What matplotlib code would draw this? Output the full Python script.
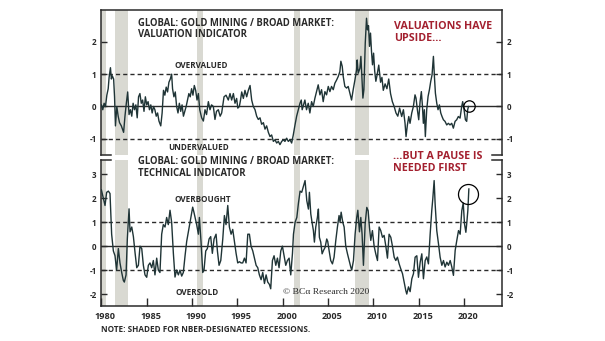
import matplotlib.pyplot as plt
from matplotlib.transforms import ScaledTranslation

# valuation indicator (z-score), year / value
val_years = [1980.0, 1980.15, 1980.3, 1980.45, 1980.6, 1980.75, 1980.85, 1981.0, 1981.1, 1981.2,
             1981.35, 1981.45, 1981.55, 1981.7, 1981.85, 1982.0, 1982.2, 1982.45, 1982.6, 1982.75,
             1982.9, 1983.05, 1983.2, 1983.35, 1983.5, 1983.65, 1983.8, 1983.95, 1984.1, 1984.25,
             1984.4, 1984.55, 1984.7, 1984.85, 1985.0, 1985.15, 1985.3, 1985.45, 1985.6, 1985.75,
             1985.9, 1986.05, 1986.2, 1986.35, 1986.55, 1986.7, 1986.85, 1987.0, 1987.15, 1987.3,
             1987.45, 1987.6, 1987.75, 1987.85, 1988.0, 1988.15, 1988.3, 1988.45, 1988.6, 1988.75,
             1988.9, 1989.05, 1989.2, 1989.35, 1989.5, 1989.65, 1989.8, 1989.95, 1990.1, 1990.25,
             1990.4, 1990.55, 1990.7, 1990.85, 1991.06, 1991.25, 1991.43, 1991.6, 1991.8, 1991.98,
             1992.15, 1992.35, 1992.53, 1992.7, 1992.9, 1993.1, 1993.27, 1993.4, 1993.53, 1993.75,
             1994.0, 1994.19, 1994.37, 1994.56, 1994.74, 1994.92, 1995.05, 1995.22, 1995.35, 1995.48,
             1995.66, 1995.84, 1996.03, 1996.21, 1996.4, 1996.58, 1996.76, 1996.95, 1997.13, 1997.31,
             1997.5, 1997.68, 1997.87, 1998.05, 1998.23, 1998.42, 1998.6, 1998.78, 1998.97, 1999.15,
             1999.34, 1999.52, 1999.7, 1999.89, 2000.07, 2000.25, 2000.44, 2000.62, 2000.81, 2000.99,
             2001.17, 2001.36, 2001.54, 2001.73, 2001.91, 2002.05, 2002.15, 2002.3, 2002.45, 2002.63,
             2002.82, 2003.0, 2003.19, 2003.37, 2003.55, 2003.74, 2003.92, 2004.11, 2004.29, 2004.47,
             2004.66, 2004.84, 2005.03, 2005.21, 2005.39, 2005.58, 2005.76, 2005.95, 2006.13, 2006.31,
             2006.42, 2006.57, 2006.68, 2006.86, 2007.05, 2007.23, 2007.41, 2007.6, 2007.78, 2007.97,
             2008.15, 2008.22, 2008.33, 2008.52, 2008.63, 2008.74, 2008.85, 2008.96, 2009.11, 2009.25,
             2009.36, 2009.47, 2009.58, 2009.69, 2009.8, 2009.91, 2010.03, 2010.15, 2010.28, 2010.4,
             2010.6, 2010.8, 2010.95, 2011.1, 2011.3, 2011.5, 2011.7, 2011.9, 2012.1, 2012.3,
             2012.5, 2012.7, 2012.9, 2013.13, 2013.32, 2013.5, 2013.61, 2013.76, 2013.91, 2014.05,
             2014.24, 2014.42, 2014.6, 2014.71, 2014.86, 2015.01, 2015.16, 2015.3, 2015.41, 2015.52,
             2015.63, 2015.74, 2015.89, 2016.04, 2016.19, 2016.33, 2016.48, 2016.63, 2016.74, 2016.85,
             2017.0, 2017.14, 2017.29, 2017.44, 2017.58, 2017.73, 2017.91, 2018.1, 2018.28, 2018.46,
             2018.65, 2018.83, 2019.02, 2019.2, 2019.38, 2019.57, 2019.75, 2019.86, 2020.01, 2020.16,
             2020.3, 2020.41, 2020.5]
val_values = [0.05, -0.1, 0.1, 0.0, 0.35, 0.55, 0.9, 1.2, 0.85, 0.95,
              0.85, 0.3, -0.6, 0.0, -0.3, -0.5, -0.6, -0.8, -0.3, 0.1,
              0.45, -0.25, -0.1, -0.3, 0.1, -0.1, 0.05, -0.35, 0.3, 0.4,
              0.1, 0.2, -0.15, 0.3, 0.05, 0.15, -0.1, 0.05, -0.2, 0.0,
              -0.1, -0.3, -0.2, -0.45, -0.6, -0.2, 0.5, 0.35, 0.6, 0.45,
              0.75, 0.85, 1.0, 0.55, 0.3, 0.45, 0.0, -0.2, 0.1, -0.15,
              0.05, -0.3, -0.15, 0.0, 0.2, 0.4, 0.3, 0.55, 0.35, 0.65,
              0.5, 0.2, 0.4, -0.1, -0.35, -0.45, -0.1, -0.25, 0.15, -0.1,
              0.05, 0.0, -0.4, -0.15, -0.1, -0.3, -0.2, 0.05, 0.3, 0.35,
              0.2, 0.4, 0.2, 0.4, 0.1, 0.25, -0.05, 0.0, 0.2, 0.45,
              0.25, 0.5, 0.3, 0.5, 0.65, 0.2, 0.0, -0.1, -0.3, -0.4,
              -0.35, -0.55, -0.5, -0.7, -0.6, -0.8, -0.93, -0.88, -1.08, -1.03,
              -1.13, -1.08, -1.18, -1.08, -1.03, -1.08, -0.98, -1.08, -1.03, -1.13,
              -0.88, -0.57, -0.3, -0.1, 0.1, 0.2, -0.1, 0.05, 0.2, -0.1,
              0.1, -0.2, 0.15, 0.0, 0.25, 0.46, 0.67, 0.36, 0.52, 0.15,
              0.46, 0.36, 0.62, 0.46, 0.62, 0.52, 0.72, 0.82, 0.93, 1.08,
              1.4, 1.24, 0.93, 0.62, 0.57, 0.62, 0.41, 0.2, 0.52, 0.82,
              1.13, 1.44, 1.03, 1.18, 1.55, 0.93, 0.26, 0.52, 1.96, 2.73,
              2.37, 2.5, 1.86, 2.27, 1.7, 1.29, 1.65, 1.1, 0.78, 0.95,
              1.28, 0.75, 0.9, 0.5, 0.7, 0.55, 0.85, 0.4, 0.15, 0.0,
              -0.2, -0.3, -0.05, -0.31, -0.1, -0.52, -0.93, -0.57, -0.31, -0.52,
              -0.2, 0.0, 0.36, 0.26, -0.1, -0.41, 0.15, 0.46, 0.05, -0.52,
              -0.1, -0.93, -0.1, 0.31, 0.52, 0.77, 0.98, 1.55, 0.93, 0.41,
              0.1, -0.1, 0.05, -0.2, -0.31, -0.41, -0.46, -0.57, -0.52, -0.57,
              -0.52, -0.67, -0.46, -0.41, -0.31, -0.36, 0.0, 0.15, -0.1, -0.41,
              -0.46, -0.1, 0.0]

# technical indicator, year / value
tech_years = [1980.0, 1980.21, 1980.4, 1980.58, 1980.77, 1980.95, 1981.13, 1981.32, 1981.5, 1981.68,
              1981.87, 1982.05, 1982.24, 1982.42, 1982.53, 1982.72, 1982.86, 1983.05, 1983.16, 1983.35,
              1983.53, 1983.72, 1983.9, 1984.08, 1984.26, 1984.45, 1984.63, 1984.81, 1985.0, 1985.18,
              1985.36, 1985.55, 1985.73, 1985.91, 1986.1, 1986.28, 1986.46, 1986.65, 1986.83, 1987.02,
              1987.2, 1987.38, 1987.57, 1987.75, 1987.94, 1988.12, 1988.3, 1988.49, 1988.67, 1988.86,
              1989.04, 1989.23, 1989.41, 1989.59, 1989.78, 1990.07, 1990.22, 1990.4, 1990.51, 1990.7,
              1990.81, 1990.99, 1991.18, 1991.32, 1991.51, 1991.69, 1991.88, 1992.06, 1992.24, 1992.43,
              1992.65, 1992.8, 1992.98, 1993.17, 1993.39, 1993.57, 1993.75, 1993.94, 1994.12, 1994.31,
              1994.49, 1994.67, 1994.86, 1995.04, 1995.23, 1995.41, 1995.59, 1995.78, 1995.96, 1996.15,
              1996.33, 1996.51, 1996.7, 1996.88, 1997.07, 1997.25, 1997.43, 1997.62, 1997.8, 1997.99,
              1998.17, 1998.35, 1998.54, 1998.68, 1998.87, 1999.05, 1999.24, 1999.42, 1999.6, 1999.79,
              1999.97, 2000.16, 2000.34, 2000.52, 2000.71, 2000.89, 2001.08, 2001.19, 2001.37, 2001.56,
              2001.74, 2001.92, 2002.1, 2002.47, 2002.66, 2002.84, 2002.95, 2003.1, 2003.21, 2003.39,
              2003.5, 2003.65, 2003.83, 2003.94, 2004.05, 2004.2, 2004.35, 2004.5, 2004.68, 2004.86,
              2004.97, 2005.12, 2005.3, 2005.49, 2005.67, 2005.86, 2006.04, 2006.22, 2006.33, 2006.45,
              2006.63, 2006.78, 2006.96, 2007.15, 2007.33, 2007.51, 2007.62, 2007.81, 2007.99, 2008.17,
              2008.29, 2008.47, 2008.62, 2008.76, 2008.91, 2009.1, 2009.28, 2009.43, 2009.57, 2009.72,
              2009.9, 2010.09, 2010.27, 2010.46, 2010.64, 2010.82, 2011.01, 2011.19, 2011.38, 2011.56,
              2011.74, 2011.93, 2012.11, 2012.3, 2012.48, 2012.66, 2012.85, 2013.03, 2013.22, 2013.4,
              2013.58, 2013.69, 2013.88, 2014.06, 2014.25, 2014.43, 2014.61, 2014.8, 2014.98, 2015.17,
              2015.35, 2015.53, 2015.72, 2015.9, 2016.08, 2016.27, 2016.45, 2016.56, 2016.71, 2016.82,
              2017.0, 2017.19, 2017.37, 2017.56, 2017.74, 2017.92, 2018.11, 2018.29, 2018.48, 2018.66,
              2018.84, 2019.03, 2019.21, 2019.4, 2019.58, 2019.76, 2019.92, 2020.06, 2020.21, 2020.32,
              2020.43, 2020.54]
tech_values = [2.35, 2.0, 1.7, 2.25, 2.3, 2.2, 0.5, -0.2, -0.4, -1.0,
               -0.1, -0.7, -1.1, -1.43, -1.5, -1.2, 0.3, 1.56, 0.6, 0.8,
               0.4, -0.3, -0.9, -0.8, 0.0, -0.1, -0.8, -1.2, -1.3, -0.8,
               -0.7, -0.9, -0.6, -1.2, -0.5, -1.0, -1.1, 0.5, 0.9, 0.8,
               1.2, 0.9, 1.5, 1.0, -0.3, -1.29, -1.0, -1.2, -1.0, -1.25,
               -1.1, -0.4, 0.2, 0.6, 1.0, 1.63, 1.4, 1.1, 0.9, 0.5,
               1.2, 0.2, -1.1, -1.0, -0.2, -0.1, 0.3, 0.4, -0.3, 0.3,
               0.5, -0.2, -0.8, -0.6, 0.3, 1.28, 0.9, 1.7, 0.8, 0.5,
               0.7, 0.2, -0.3, -0.7, -0.65, -0.7, -0.7, -0.5, -0.7, 0.5,
               0.5, 0.0, -0.2, -0.5, -0.8, -0.9, -1.2, -1.4, -1.1, -1.56,
               -1.2, -1.5, -1.6, -1.78, -0.6, -0.4, -0.8, -0.5, -0.9, -0.2,
               0.0, -0.4, -0.8, -0.6, -0.5, -1.2, -0.3, 0.5, 1.0, 1.2,
               1.8, 2.3, 2.25, 2.74, 1.9, 1.55, 2.25, 1.35, 1.07, 0.65,
               0.17, 0.8, 1.2, 1.55, 0.37, 0.17, -0.32, -0.18, -0.05, 0.3,
               0.2, -0.18, -0.6, -0.74, -0.46, 0.24, 0.8, 1.28, 1.0, 1.42,
               1.0, 0.8, 0.0, -0.32, -0.6, -0.87, -1.0, -0.6, 0.5, 1.2,
               1.5, 0.6, 1.2, 0.5, -0.8, 0.93, 1.62, 1.48, 0.8, 0.24,
               0.65, 0.0, -0.32, -0.6, 0.8, 0.65, 0.37, 0.45, 0.0, -0.5,
               0.5, 0.37, 0.0, -0.46, -0.6, -0.46, -0.74, -0.95, -1.15, -1.5,
               -1.85, -2.0, -1.7, -1.9, -1.36, -1.15, -0.46, -0.4, -1.3, -0.67,
               -0.32, -1.36, -0.6, -0.45, -0.74, 0.5, 1.5, 1.97, 2.74, 1.76,
               0.65, 0.1, -0.46, -0.8, -0.6, -0.87, -0.67, -0.8, -0.6, -0.87,
               -1.22, -0.18, 0.24, 0.65, 0.5, 1.48, 1.8, 0.93, 0.58, 1.0,
               1.5, 2.39]

# NBER recessions (start, end)
recessions = [(1980.0, 1980.5), (1981.5, 1982.9), (1990.55, 1991.2),
              (2001.2, 2001.9), (2007.95, 2009.5)]

# highlighted latest readings
val_circle = (2020.55, 0.0)
tech_circle = (2020.5, 2.18)

xticks = [1980, 1985, 1990, 1995, 2000, 2005, 2010, 2015, 2020]

plt.rcParams['font.family'] = ['Open Sans', 'DejaVu Sans']

line_col = '#1f3436'
shade_col = '#d9d9d2'
ink = '#2a2a2a'
red = '#a3202f'

fig = plt.figure(figsize=(6.05, 3.41), dpi=100)
ax1 = fig.add_axes([0.1676, 0.5455, 0.6622, 0.4266])
ax2 = fig.add_axes([0.1676, 0.1026, 0.6622, 0.4282])

for ax, xs, ys in [(ax1, val_years, val_values), (ax2, tech_years, tech_values)]:
    for a, b in recessions:
        ax.axvspan(a, b, color=shade_col, lw=0, zorder=0)
    ax.axhline(0, color=ink, lw=1.0, zorder=1)
    for lvl in (1, -1):
        ax.axhline(lvl, color=ink, lw=1.0, ls=(0, (3, 2.2)), zorder=1)
    ax.plot(xs, ys, color=line_col, lw=1.0, zorder=3)
    ax.set_xlim(1980, 2024.2)
    for s in ax.spines.values():
        s.set_color(ink)
        s.set_linewidth(1.1)
    ax.yaxis.set_ticks_position('both')
    ax.tick_params(axis='y', direction='in', length=4, width=1.0, color=ink,
                   labelleft=True, labelright=True, labelsize=5.8, pad=3.5)

ax1.set_ylim(-1.5, 3.0)
ax1.set_yticks([-1, 0, 1, 2])
ax1.set_yticklabels(['-1', '0', '1', '2'], fontweight='bold', color=ink)
ax1.spines['bottom'].set_visible(False)
ax1.tick_params(axis='x', bottom=False, labelbottom=False)

ax2.set_ylim(-2.5, 3.6)
ax2.set_yticks([-2, -1, 0, 1, 2, 3])
ax2.set_yticklabels(['-2', '-1', '0', '1', '2', '3'], fontweight='bold', color=ink)
ax2.spines['top'].set_visible(False)
ax2.set_xticks(xticks)
ax2.set_xticklabels([str(y) for y in xticks], fontweight='bold', color=ink)
ax2.tick_params(axis='x', direction='in', length=6, width=1.0, color=ink,
                labelsize=6.6, pad=4)
shift = ScaledTranslation(4 / 100, 0, fig.dpi_scale_trans)
for lab in ax2.get_xticklabels():
    lab.set_transform(lab.get_transform() + shift)

# little bracket ends where the two panels meet
for x0, x1 in [(0, 0.024), (0.976, 1)]:
    ax1.plot([x0, x1], [0, 0], transform=ax1.transAxes, color=ink, lw=1.1, clip_on=False)
    ax2.plot([x0, x1], [1, 1], transform=ax2.transAxes, color=ink, lw=1.1, clip_on=False)

# panel titles and zone labels
ax1.text(1984.0, 2.74, 'GLOBAL: GOLD MINING / BROAD MARKET:\nVALUATION INDICATOR',
         fontsize=6.85, fontweight='bold', color=ink, va='top', linespacing=1.05)
ax2.text(1984.0, 3.75, 'GLOBAL: GOLD MINING / BROAD MARKET:\nTECHNICAL INDICATOR',
         fontsize=6.85, fontweight='bold', color=ink, va='top', linespacing=1.05, clip_on=False)
ax1.text(1991.07, 1.26, 'OVERVALUED', fontsize=5.9, fontweight='bold', color=ink, ha='center', va='center')
ax1.text(1990.77, -1.27, 'UNDERVALUED', fontsize=5.9, fontweight='bold', color=ink, ha='center', va='center')
ax2.text(1991.18, 1.93, 'OVERBOUGHT', fontsize=5.9, fontweight='bold', color=ink, ha='center', va='center')
ax2.text(1990.52, -1.92, 'OVERSOLD', fontsize=5.9, fontweight='bold', color=ink, ha='center', va='center')

ax1.text(2012.3, 2.64, 'VALUATIONS HAVE\nUPSIDE...', fontsize=7.7, fontweight='bold',
         color=red, va='top', linespacing=1.1)
ax2.text(2012.15, 3.98, '...BUT A PAUSE IS\nNEEDED FIRST', fontsize=7.7, fontweight='bold',
         color=red, va='top', linespacing=1.1, clip_on=False)

ax1.plot(*val_circle, marker='o', ms=8.2, mfc='none', mec='black', mew=0.9, zorder=4)
ax2.plot(*tech_circle, marker='o', ms=14.4, mfc='none', mec='black', mew=0.9, zorder=4)

ax2.text(2000.07, -1.92, '© BCα Research 2020', fontsize=6.8, color=ink,
         family=['Liberation Serif', 'DejaVu Serif'], va='center')

fig.text(0.1676, 1 - 330 / 341, 'NOTE: SHADED FOR NBER-DESIGNATED RECESSIONS.',
         fontsize=5.9, fontweight='bold', color=ink, va='center')

plt.savefig('out.png', dpi=100)
